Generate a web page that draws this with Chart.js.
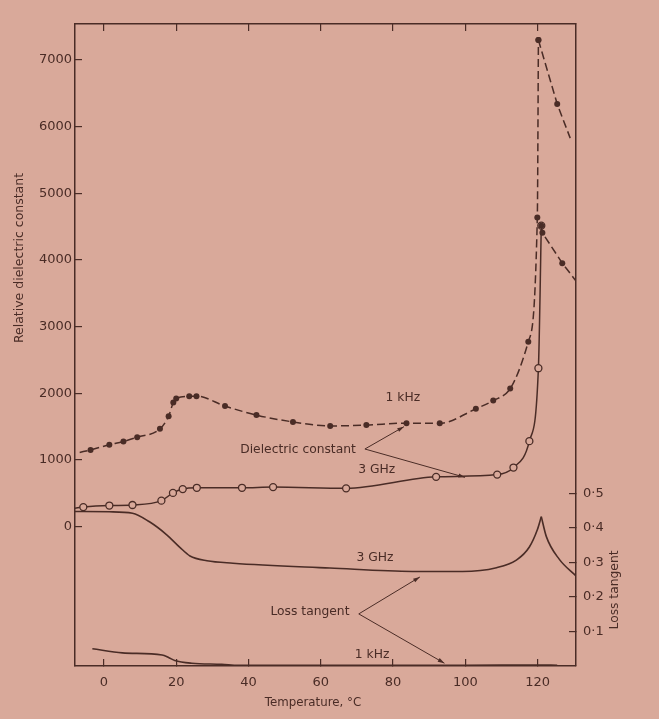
<!DOCTYPE html>
<html>
<head>
<meta charset="utf-8">
<script src="https://cdn.jsdelivr.net/npm/chart.js@4.4.1/dist/chart.umd.min.js"></script>
<style>
  html, body { margin:0; padding:0; background:#d9a99a; }
  #wrap { width:659px; height:719px; }
</style>
</head>
<body>
<div id="wrap"><canvas id="chart"></canvas></div>
<script>
// axis ticks
const tempTicks = [0, 20, 40, 60, 80, 100, 120];
const epsTicks = [0, 1000, 2000, 3000, 4000, 5000, 6000, 7000];
const lossTicks = [0.1, 0.2, 0.3, 0.4, 0.5];

// relative dielectric constant, 1 kHz (filled dots)
const kHzEpsT = [-6.7, -3.7, 1.5, 5.4, 9.2, 15.5, 17.9, 19.2, 20.0, 23.6, 25.6, 33.5, 42.2, 52.3, 62.6, 72.6, 83.7, 92.9, 102.9, 107.7, 112.4, 117.4, 119.9, 120.2];
const kHzEps  = [1114, 1151, 1230, 1278, 1342, 1467, 1658, 1862, 1922, 1955, 1958, 1809, 1674, 1571, 1511, 1524, 1553, 1551, 1768, 1891, 2071, 2774, 4638, 7300];
const kHzEpsFallT = [120.2, 125.4, 129.0];
const kHzEpsFall  = [7300, 6340, 5828];

// relative dielectric constant, 3 GHz (open circles)
const gHzEpsT = [-8, -5.7, 1.5, 7.9, 15.9, 19.1, 21.8, 25.7, 38.2, 46.8, 67.0, 91.9, 108.8, 113.3, 117.7, 120.2, 121.0];
const gHzEps  = [278, 294, 317, 325, 390, 506, 564, 583, 583, 594, 575, 747, 781, 887, 1283, 2377, 4515];
const gHzEpsFallT = [121.0, 121.3, 126.8, 130.6];
const gHzEpsFall  = [4515, 4408, 3953, 3685];

// loss tangent, 3 GHz
const gHzLossT = [-8, 1.5, 7.9, 12.6, 17.3, 21.0, 23.8, 28.5, 35.7, 62.5, 85.3, 99.2, 108.6, 114.1, 117.7, 119.9, 121.0];
const gHzLoss  = [0.448, 0.447, 0.443, 0.418, 0.381, 0.344, 0.319, 0.305, 0.298, 0.284, 0.274, 0.274, 0.285, 0.307, 0.345, 0.395, 0.433];
const gHzLossFallT = [121.0, 122.4, 126.0, 130.6];
const gHzLossFall  = [0.433, 0.375, 0.309, 0.261];

// loss tangent, 1 kHz
const kHzLossT = [-3.2, 5.1, 16.1, 18.0, 19.6, 24.3, 32.6, 37.2, 60, 80, 100, 120, 125.4];
const kHzLoss  = [0.050, 0.038, 0.032, 0.024, 0.016, 0.008, 0.005, 0.002, 0.002, 0.002, 0.002, 0.003, 0.002];

const ink = '#4a2c26';
const paper = '#d9a99a';
const font = '"DejaVu Sans", sans-serif';

const pts = (xs, ys) => xs.map((x, i) => ({x: x, y: ys[i]}));
const setTicks = list => scale => { scale.ticks = list.map(v => ({value: v})); };

const dots = {
  pointRadius: ctx => (ctx.dataIndex === 0 ? 0 : 3),
  pointBackgroundColor: ink, pointBorderColor: ink, pointBorderWidth: 0
};

// text labels and arrows
const notes = {
  id: 'notes',
  afterDatasetsDraw(chart) {
    const {ctx} = chart;
    const {x, y, y2} = chart.scales;
    const px = t => x.getPixelForValue(t);
    ctx.save();
    ctx.fillStyle = ink;
    ctx.strokeStyle = ink;
    ctx.lineWidth = 1;
    ctx.font = '12.3px ' + font;
    ctx.textAlign = 'center';
    ctx.textBaseline = 'middle';
    ctx.fillText('1 kHz', px(82.7), y.getPixelForValue(1930));
    ctx.fillText('Dielectric constant', px(53.7), y.getPixelForValue(1150));
    ctx.fillText('3 GHz', px(75.5), y.getPixelForValue(850));
    ctx.fillText('3 GHz', px(75), y2.getPixelForValue(0.313));
    ctx.fillText('Loss tangent', px(57), y2.getPixelForValue(0.157));
    ctx.fillText('1 kHz', px(74.2), y2.getPixelForValue(0.032));

    const arrow = (x0, y0, x1, y1) => {
      ctx.beginPath(); ctx.moveTo(x0, y0); ctx.lineTo(x1, y1); ctx.stroke();
      const a = Math.atan2(y1 - y0, x1 - x0), h = 7;
      ctx.beginPath();
      ctx.moveTo(x1, y1);
      ctx.lineTo(x1 - h * Math.cos(a - 0.3), y1 - h * Math.sin(a - 0.3));
      ctx.lineTo(x1 - h * Math.cos(a + 0.3), y1 - h * Math.sin(a + 0.3));
      ctx.closePath(); ctx.fill();
    };
    arrow(px(72.2), y.getPixelForValue(1165), px(83), y.getPixelForValue(1500));
    arrow(px(72.2), y.getPixelForValue(1165), px(99.9), y.getPixelForValue(740));
    arrow(px(70.5), y2.getPixelForValue(0.151), px(87.4), y2.getPixelForValue(0.258));
    arrow(px(70.5), y2.getPixelForValue(0.151), px(94.2), y2.getPixelForValue(0.008));

    // axis titles
    ctx.font = '11.8px ' + font;
    ctx.fillText('Temperature, \u00B0C', 313, 703);
    ctx.font = '12.5px ' + font;
    ctx.save();
    ctx.translate(20, 258); ctx.rotate(-Math.PI / 2);
    ctx.fillText('Relative dielectric constant', 0, 0);
    ctx.restore();
    ctx.font = '12.3px ' + font;
    ctx.save();
    ctx.translate(615, 590); ctx.rotate(-Math.PI / 2);
    ctx.fillText('Loss tangent', 0, 0);
    ctx.restore();
    ctx.restore();
  }
};

const axisGrid = {drawOnChartArea: false, drawTicks: true, tickLength: -7, color: ink, lineWidth: 1.2};
const axisBorder = {display: true, color: ink, width: 1.5};
const tickFont = {family: font, size: 13};

new Chart('chart', {
  type: 'line',
  data: {
    datasets: [
      {data: pts(gHzEpsFallT, gHzEpsFall), yAxisID: 'y', borderColor: ink, borderWidth: 1.5, borderDash: [8, 4],
       tension: 0, ...dots, pointRadius: ctx => (ctx.dataIndex === gHzEpsFallT.length - 1 ? 0 : 3)},
      {data: pts(gHzEpsT, gHzEps), yAxisID: 'y', borderColor: ink, borderWidth: 1.5,
       cubicInterpolationMode: 'monotone', pointRadius: ctx => (ctx.dataIndex === 0 ? 0 : 3.5),
       pointBackgroundColor: paper, pointBorderColor: ink, pointBorderWidth: 1.3},
      {data: pts(kHzEpsFallT, kHzEpsFall), yAxisID: 'y', borderColor: ink, borderWidth: 1.5, borderDash: [8, 4],
       tension: 0, ...dots, pointRadius: ctx => (ctx.dataIndex === kHzEpsFallT.length - 1 ? 0 : 3)},
      {data: pts(kHzEpsT, kHzEps), yAxisID: 'y', borderColor: ink, borderWidth: 1.5, borderDash: [8, 4],
       cubicInterpolationMode: 'monotone', ...dots},
      {data: pts(gHzLossT, gHzLoss), yAxisID: 'y2', borderColor: ink, borderWidth: 1.6,
       cubicInterpolationMode: 'monotone', pointRadius: 0},
      {data: pts(gHzLossFallT, gHzLossFall), yAxisID: 'y2', borderColor: ink, borderWidth: 1.6,
       cubicInterpolationMode: 'monotone', pointRadius: 0},
      {data: pts(kHzLossT, kHzLoss), yAxisID: 'y2', borderColor: ink, borderWidth: 1.6,
       cubicInterpolationMode: 'monotone', pointRadius: 0}
    ]
  },
  options: {
    responsive: true,
    maintainAspectRatio: false,
    animation: false,
    layout: {padding: 0},
    plugins: {legend: {display: false}, tooltip: {enabled: false}},
    scales: {
      x: {
        type: 'linear', position: 'bottom', min: -8, max: 130.6,
        afterBuildTicks: setTicks(tempTicks),
        afterFit: s => { s.height = 53; },
        grid: axisGrid, border: axisBorder,
        ticks: {color: ink, font: tickFont, padding: 16, maxRotation: 0, callback: v => String(v)}
      },
      xTop: {
        type: 'linear', position: 'top', min: -8, max: 130.6,
        afterBuildTicks: setTicks(tempTicks),
        afterFit: s => { s.height = 24; },
        grid: axisGrid, border: axisBorder,
        ticks: {display: false}
      },
      y: {
        type: 'linear', position: 'left', min: -2090, max: 7540,
        afterBuildTicks: setTicks(epsTicks),
        afterFit: s => { s.width = 75; },
        grid: axisGrid, border: axisBorder,
        ticks: {color: ink, font: tickFont, padding: 10, callback: v => String(v)}
      },
      y2: {
        type: 'linear', position: 'right', min: 0, max: 1.861,
        afterBuildTicks: setTicks(lossTicks),
        afterFit: s => { s.width = 83; },
        grid: axisGrid, border: axisBorder,
        ticks: {color: ink, font: tickFont, padding: 14,
                callback: v => v.toFixed(1).replace('.', '\u00B7')}
      }
    }
  },
  plugins: [notes]
});
</script>
</body>
</html>
